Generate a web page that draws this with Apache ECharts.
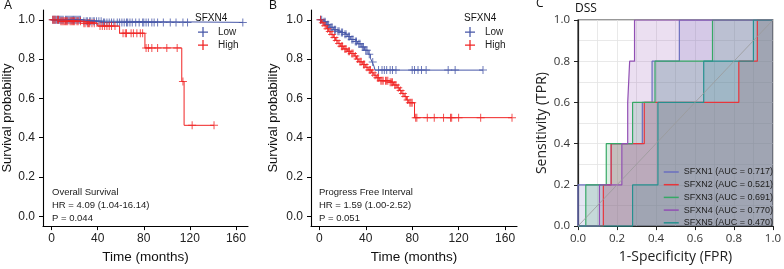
<!DOCTYPE html>
<html>
<head>
<meta charset="utf-8">
<script src="https://cdn.jsdelivr.net/npm/echarts@6/dist/echarts.min.js"></script>
<style>
html, body { margin: 0; padding: 0; background: #fff; }
#chart { width: 784px; height: 269px; }
</style>
</head>
<body>
<div id="chart"></div>
<script>
// ---- A: overall survival (KM) ----
var osLowTime = [0, 26, 44];
var osLowSurv = [1.0, 0.993, 0.987];
var osLowEnd = 166;
var osLowCensor = [1, 2, 3, 4, 5, 6, 7, 8, 9, 10, 12, 13, 14, 15, 16, 17, 18, 19, 20, 21, 22, 23, 24, 25, 28, 30, 31, 33, 34, 36, 37, 39, 41, 43, 45, 46, 48, 50, 52, 54, 57, 59, 61, 63, 65, 66, 68, 70, 73, 76, 79, 80, 82, 84, 87, 89, 92, 97, 103, 108, 114, 118, 166];
var osHighTime = [0, 8, 27, 40, 59, 81, 113, 115];
var osHighSurv = [1.0, 0.993, 0.983, 0.968, 0.932, 0.857, 0.686, 0.463];
var osHighEnd = 141;
var osHighCensor = [1, 2, 3, 5, 6, 8, 9, 10, 11, 12, 13, 14, 16, 17, 18, 19, 20, 22, 23, 25, 28, 29, 31, 32, 33, 35, 37, 42, 44, 46, 48, 50, 52, 55, 62, 64, 65, 69, 71, 74, 77, 79, 82, 84, 87, 92, 100, 109, 114, 122, 141];
var osNote = ['Overall Survival', 'HR = 4.09 (1.04-16.14)', 'P = 0.044'];

// ---- B: progress free interval (KM) ----
var pfiLowTime = [0, 3, 6, 9, 12, 15, 18, 21, 24, 27, 30, 33, 36, 39, 42, 44, 45.5, 47, 48];
var pfiLowSurv = [1.0, 0.99, 0.975, 0.962, 0.95, 0.942, 0.935, 0.926, 0.915, 0.9, 0.89, 0.878, 0.862, 0.845, 0.825, 0.805, 0.785, 0.765, 0.744];
var pfiLowEnd = 141;
var pfiLowCensor = [1, 2, 4, 5, 7, 8, 10, 11, 13, 14, 16, 17, 19, 20, 22, 23, 25, 26, 28, 29, 31, 32, 34, 35, 37, 38, 40, 41, 43, 46, 51, 54, 56, 58, 61, 63, 66, 80, 82, 85, 88, 92, 111, 117, 141];
var pfiHighTime = [0, 2, 4, 6, 8, 10, 12, 14, 16, 18, 21, 24, 27, 30, 32, 34, 37, 40, 42, 45, 47, 49, 52, 60, 64, 67, 69, 71, 73, 75, 77, 82];
var pfiHighSurv = [1.0, 0.985, 0.97, 0.955, 0.94, 0.925, 0.91, 0.895, 0.88, 0.866, 0.852, 0.84, 0.828, 0.816, 0.8, 0.786, 0.772, 0.758, 0.745, 0.73, 0.718, 0.705, 0.69, 0.682, 0.668, 0.654, 0.64, 0.625, 0.61, 0.592, 0.578, 0.502];
var pfiHighEnd = 166;
var pfiHighCensor = [1, 3, 5, 7, 9, 11, 13, 15, 17, 19, 20, 22, 23, 25, 26, 28, 29, 31, 33, 35, 36, 38, 39, 41, 43, 44, 46, 48, 50, 51, 53, 54, 55, 57, 58, 59, 61, 62, 63, 65, 66, 68, 70, 72, 74, 76, 78, 79, 80, 83, 84, 93, 99, 107, 113, 114, 120, 139, 166];
var pfiNote = ['Progress Free Interval', 'HR = 1.59 (1.00-2.52)', 'P = 0.051'];

var kmGroups = ['Low', 'High'];
var kmTicks = [0, 40, 80, 120, 160];
var survTicks = [0, 0.2, 0.4, 0.6, 0.8, 1.0];

// ---- C: ROC (DSS) ----
var rocGenes = ['SFXN1', 'SFXN2', 'SFXN3', 'SFXN4', 'SFXN5'];
var rocAuc = ['0.717', '0.521', '0.691', '0.770', '0.470'];
var rocTpr = [0, 0.2, 0.4, 0.6, 0.8, 1.0, 1.0];
var rocFpr = [
    [0, 0.0, 0.17, 0.33, 0.38, 0.52, 1],
    [0, 0.13, 0.17, 0.34, 0.825, 0.92, 1],
    [0, 0.04, 0.145, 0.28, 0.395, 0.69, 1],
    [0, 0.11, 0.225, 0.255, 0.265, 0.29, 1],
    [0, 0.28, 0.41, 0.41, 0.645, 0.9, 1]
];
var rocColors = ['#6a6fbf', '#e8353b', '#36a866', '#9150b4', '#26908f'];

var BLUE = '#4757a8', RED = '#f02424';
var PLUS = 'path://M7,0h2v7h7v2h-7v7h-2v-7h-7v-2h7z';
var KM_FONT = 'Liberation Sans';
var ROC_FONT = 'Open Sans';

//生存曲线: 事件时间 -> 阶梯点
function kmLine(times, surv, end) {
    var pts = [];
    for (var i = 0; i < times.length; i++) pts.push([times[i], surv[i]]);
    pts.push([end, surv[surv.length - 1]]);
    return pts;
}
//删失点取所在阶梯的生存率
function censorPts(times, surv, cens) {
    return cens.map(function (t) {
        var s = surv[0];
        for (var i = 0; i < times.length; i++) {
            if (times[i] <= t) s = surv[i];
        }
        return [t, s];
    });
}

function kmX(idx, min, max) {
    return {
        gridIndex: idx, type: 'value', min: min, max: max,
        axisLine: { onZero: false, lineStyle: { color: '#000', width: 1.1 } },
        axisTick: { customValues: kmTicks, length: 4, lineStyle: { color: '#000' } },
        axisLabel: { customValues: kmTicks, color: '#222', fontSize: 12, fontFamily: KM_FONT, margin: 7 },
        splitLine: { show: false },
        name: 'Time (months)', nameLocation: 'middle', nameGap: 22,
        nameTextStyle: { color: '#111', fontSize: 13.5, fontFamily: KM_FONT }
    };
}
function kmY(idx, gap) {
    return {
        gridIndex: idx, type: 'value', min: -0.05, max: 1.05,
        axisLine: { show: true, onZero: false, lineStyle: { color: '#000', width: 1.1 } },
        axisTick: { show: true, customValues: survTicks, length: 4, lineStyle: { color: '#000' } },
        axisLabel: {
            customValues: survTicks, color: '#222', fontSize: 12, fontFamily: KM_FONT, margin: 8,
            formatter: function (v) { return v.toFixed(1); }
        },
        splitLine: { show: false },
        name: 'Survival probability', nameLocation: 'middle', nameGap: gap,
        nameTextStyle: { color: '#111', fontSize: 13, fontFamily: KM_FONT }
    };
}

var series = [];
function addKm(idx, name, color, times, surv, end, cens) {
    series.push({
        name: name, type: 'line', xAxisIndex: idx, yAxisIndex: idx,
        step: 'end', symbol: 'none', silent: true,
        lineStyle: { color: color, width: 1 }, itemStyle: { color: color },
        data: kmLine(times, surv, end)
    });
    series.push({
        name: name + ' censor', type: 'scatter', xAxisIndex: idx, yAxisIndex: idx,
        symbol: PLUS, symbolSize: 8, silent: true, itemStyle: { color: color },
        data: censorPts(times, surv, cens)
    });
}
addKm(0, 'Low', BLUE, osLowTime, osLowSurv, osLowEnd, osLowCensor);
addKm(0, 'High', RED, osHighTime, osHighSurv, osHighEnd, osHighCensor);
addKm(1, 'Low', BLUE, pfiLowTime, pfiLowSurv, pfiLowEnd, pfiLowCensor);
addKm(1, 'High', RED, pfiHighTime, pfiHighSurv, pfiHighEnd, pfiHighCensor);

var rocNames = rocGenes.map(function (g, i) { return g + ' (AUC = ' + rocAuc[i] + ')'; });
rocGenes.forEach(function (g, i) {
    series.push({
        name: rocNames[i], type: 'line', xAxisIndex: 2, yAxisIndex: 2,
        step: 'end', symbol: 'none', silent: true,
        lineStyle: { color: rocColors[i], width: 1.2 },
        itemStyle: { color: rocColors[i] },
        areaStyle: { color: rocColors[i], opacity: 0.18 },
        data: rocFpr[i].map(function (f, j) { return [f, rocTpr[j]]; })
    });
});
series.push({
    name: 'chance', type: 'line', xAxisIndex: 2, yAxisIndex: 2, symbol: 'none', silent: true, z: 5,
    lineStyle: { color: '#9a9a9a', width: 0.8 },
    data: [[0, 0], [1, 1]]
});

function note(left, lines) {
    return {
        text: lines.join('\n'), left: left, top: 186, padding: 0,
        textStyle: { fontSize: 9.5, fontWeight: 'normal', color: '#222', fontFamily: KM_FONT, lineHeight: 13 }
    };
}
function label(text, left, top, size, font) {
    return {
        text: text, left: left, top: top, padding: 0,
        textStyle: { fontSize: size, fontWeight: 'normal', color: '#111', fontFamily: font }
    };
}

function kmLegend(left) {
    return {
        left: left, top: 26, orient: 'vertical', padding: 0, itemGap: 1,
        itemWidth: 20, itemHeight: 10, selectedMode: false,
        data: kmGroups.map(function (n) { return { name: n, icon: PLUS }; }),
        textStyle: { fontSize: 10, color: '#222', fontFamily: KM_FONT, lineHeight: 12 }
    };
}

var option = {
    animation: false,
    backgroundColor: '#fff',
    title: [
        label('A', 4, 0, 12, KM_FONT),
        label('B', 269, 0, 12, KM_FONT),
        label('C', 536, -2, 12, ROC_FONT),
        label('SFXN4', 195, 13, 10, KM_FONT),
        label('SFXN4', 464, 13, 10, KM_FONT),
        label('DSS', 575, 3, 12, ROC_FONT),
        note(52, osNote),
        note(319, pfiNote)
    ],
    legend: [
        kmLegend(198),
        kmLegend(465),
        {
            left: 663, top: 166, orient: 'vertical', padding: 0, itemGap: 0.7,
            itemWidth: 15, itemHeight: 8, selectedMode: false,
            itemStyle: { opacity: 0 },
            lineStyle: { width: 1.5 },
            data: rocNames,
            textStyle: { fontSize: 9, color: '#222', fontFamily: KM_FONT, lineHeight: 12 }
        }
    ],
    grid: [
        { left: 43, top: 10, width: 205, height: 222 },
        { left: 311, top: 10, width: 206, height: 222 },
        { left: 578, top: 20, width: 198, height: 213.5, show: true, borderColor: '#333', borderWidth: 1.2, backgroundColor: 'transparent' }
    ],
    xAxis: [
        kmX(0, -7.5, 170.5),
        kmX(1, -7.2, 170.3),
        {
            gridIndex: 2, type: 'value', min: 0, max: 1, interval: 0.2,
            axisLine: { onZero: false, lineStyle: { color: '#222', width: 1.2 } },
            axisTick: { length: 4, lineStyle: { color: '#222' } },
            axisLabel: { color: '#333', fontSize: 11.5, fontFamily: ROC_FONT, margin: 7, formatter: function (v) { return v.toFixed(1); } },
            splitLine: { show: true, lineStyle: { color: '#e3e3e3', width: 0.8 } },
            minorTick: { show: false, splitNumber: 2 },
            minorSplitLine: { show: true, lineStyle: { color: '#e3e3e3', width: 0.8 } },
            name: '1-Specificity (FPR)', nameLocation: 'middle', nameGap: 21,
            nameTextStyle: { color: '#222', fontSize: 14, fontFamily: ROC_FONT }
        }
    ],
    yAxis: [
        kmY(0, 25),
        kmY(1, 31),
        {
            gridIndex: 2, type: 'value', min: 0, max: 1, interval: 0.2,
            axisLine: { show: true, onZero: false, lineStyle: { color: '#222', width: 1.2 } },
            axisTick: { show: true, length: 4, lineStyle: { color: '#222' } },
            axisLabel: { color: '#333', fontSize: 11.5, fontFamily: ROC_FONT, margin: 8, formatter: function (v) { return v.toFixed(1); } },
            splitLine: { show: true, lineStyle: { color: '#e3e3e3', width: 0.8 } },
            minorTick: { show: false, splitNumber: 2 },
            minorSplitLine: { show: true, lineStyle: { color: '#e3e3e3', width: 0.8 } },
            name: 'Sensitivity (TPR)', nameLocation: 'middle', nameGap: 29,
            nameTextStyle: { color: '#222', fontSize: 14, fontFamily: ROC_FONT }
        }
    ],
    series: series
};

var chart = echarts.init(document.getElementById('chart'), null, { renderer: 'canvas' });
chart.setOption(option);
</script>
</body>
</html>
